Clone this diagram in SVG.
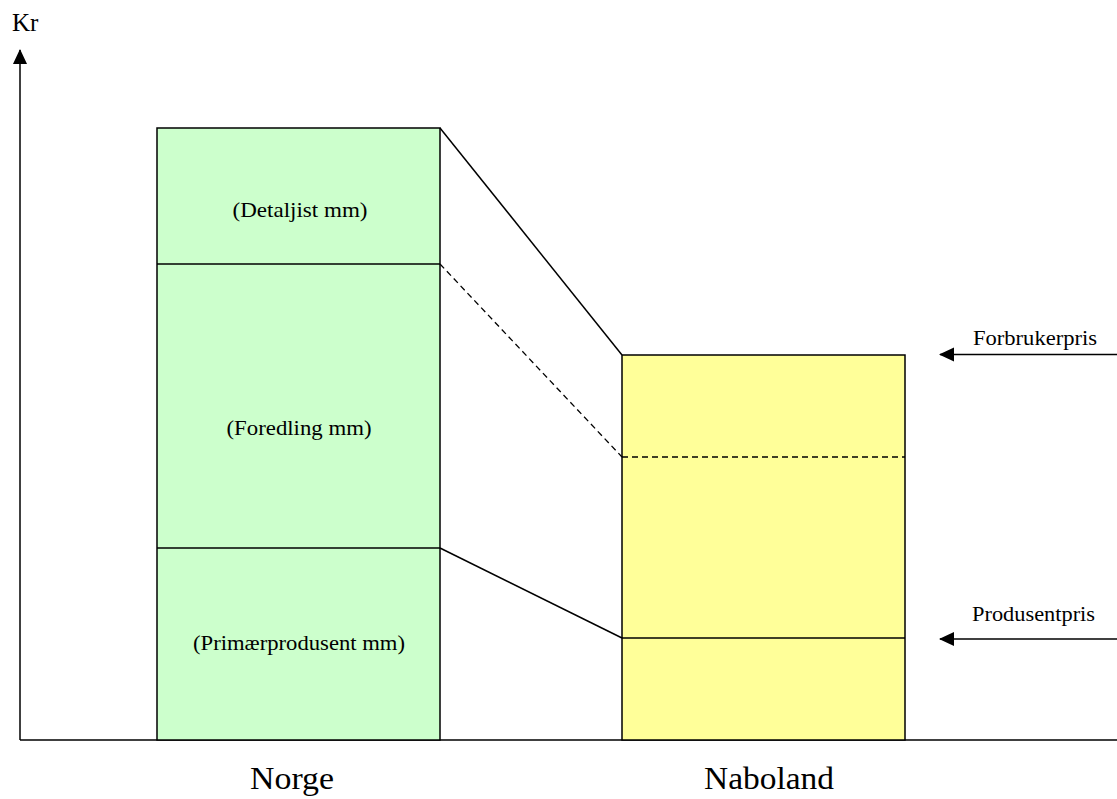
<svg xmlns="http://www.w3.org/2000/svg" width="1117" height="799" viewBox="0 0 1117 799">
<style>
  text { font-family: "Liberation Serif", "Times New Roman", serif; fill: #000; }
  .box { stroke: #000; stroke-width: 1.5; }
  .ln { stroke: #000; stroke-width: 1.5; fill: none; }
  .dash { stroke: #000; stroke-width: 1.3; fill: none; stroke-dasharray: 6 4; }
  .lbl { font-size: 22px; text-anchor: middle; }
  .big { font-size: 32px; text-anchor: middle; }
</style>
<defs>
  <marker id="arrBig" markerWidth="15" markerHeight="15" refX="14" refY="7" orient="auto" markerUnits="userSpaceOnUse" viewBox="0 0 15 14">
    <path d="M0,0 L15,7 L0,14 Z" fill="#000"/>
  </marker>
</defs>

<g id="axes">
  <line class="ln" x1="20" y1="740" x2="1117" y2="740" stroke-width="2"/>
  <line class="ln" x1="20" y1="740" x2="20" y2="50" marker-end="url(#arrBig)"/>
  <text x="12" y="31" font-size="25">Kr</text>
</g>

<g id="norge">
  <rect class="box" x="157" y="128" width="283" height="612" fill="#CCFFCC"/>
  <line class="ln" x1="157" y1="264" x2="440" y2="264"/>
  <line class="ln" x1="157" y1="548" x2="440" y2="548"/>
  <text class="lbl" x="300" y="217" textLength="135" lengthAdjust="spacingAndGlyphs">(Detaljist mm)</text>
  <text class="lbl" x="299" y="435" textLength="145" lengthAdjust="spacingAndGlyphs">(Foredling mm)</text>
  <text class="lbl" x="299" y="650" textLength="212" lengthAdjust="spacingAndGlyphs">(Primærprodusent mm)</text>
  <text class="big" x="292" y="789" textLength="84" lengthAdjust="spacingAndGlyphs">Norge</text>
</g>

<g id="naboland">
  <rect class="box" x="622" y="355" width="283" height="385" fill="#FFFF99"/>
  <line class="dash" x1="622" y1="457" x2="905" y2="457"/>
  <line class="ln" x1="622" y1="638" x2="905" y2="638"/>
  <text class="big" x="769" y="789" textLength="130" lengthAdjust="spacingAndGlyphs">Naboland</text>
</g>

<g id="connectors">
  <line class="ln" x1="440" y1="128" x2="622" y2="355"/>
  <line class="dash" x1="440" y1="264" x2="622" y2="457"/>
  <line class="ln" x1="440" y1="548" x2="622" y2="638"/>
</g>

<g id="forbrukerpris">
  <line class="ln" x1="1117" y1="354.5" x2="940" y2="354.5" marker-end="url(#arrBig)"/>
  <text class="lbl" x="1035" y="345" textLength="124" lengthAdjust="spacingAndGlyphs">Forbrukerpris</text>
</g>

<g id="produsentpris">
  <line class="ln" x1="1117" y1="639" x2="940" y2="639" marker-end="url(#arrBig)"/>
  <text class="lbl" x="1033.5" y="621" textLength="123" lengthAdjust="spacingAndGlyphs">Produsentpris</text>
</g>
</svg>
